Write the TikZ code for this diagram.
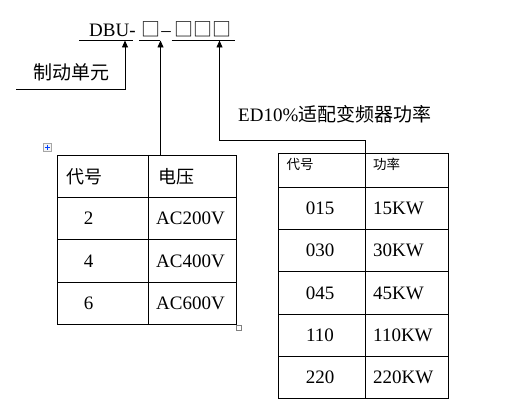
\documentclass[tikz,border=0pt]{standalone}
\usepackage{fontspec}
\setmainfont{Liberation Serif}
\newfontfamily\cjk{Noto Sans CJK SC}
\usetikzlibrary{positioning,arrows.meta,calc}

\begin{document}
\begin{tikzpicture}[
  x=1pt, y=-1pt,
  font=\fontsize{19}{22}\selectfont,
  >={Triangle[length=7pt,width=6pt]},
  lead/.style={->, line width=0.8pt},
  grid/.style={line width=0.8pt},
  cell/.style={inner sep=0pt},
  hcell/.style={inner sep=0pt, font=\fontsize{13.5}{16}\selectfont\cjk},
]
  \useasboundingbox (0,0) rectangle (506,414);

  % type code
  \node[cell, anchor=base west] (dbu) at (89,37) {DBU-};
  \node[cell, anchor=base] (boxa) at (150.5,37) {\cjk □};
  \node[cell, anchor=base] (dash) at (166,37) {–};
  \node[cell, anchor=base] (boxb) at (203,37) {\cjk □□□};
  \draw[grid] (79,40.5) -- (133,40.5);
  \draw[grid] (139,40.5) -- (160,40.5);
  \draw[grid] (171.5,40.5) -- (235,40.5);

  \coordinate (pa) at (125,40.5);
  \coordinate (pb) at (160.5,40.5);
  \coordinate (pc) at (219.5,40.5);

  % unit label
  \node[cell, font=\fontsize{19}{22}\selectfont\cjk] (unit) at (71,72) {制动单元};
  \coordinate (ua) at (16,89);
  \draw[lead] (ua) -- (125,89) -- (pa);

  % voltage table
  \coordinate (vt) at (160.5,155);
  \draw[lead] (vt) -- (pb);
  \draw[grid] (57.5,155) rectangle (236.5,324);
  \draw[grid] (148.5,155) -- (148.5,324);
  \foreach \y in {197.5,239.5,282.5}
    \draw[grid] (57.5,\y) -- (236.5,\y);
  \node[cell, anchor=west, font=\fontsize{18}{22}\selectfont\cjk] (vcode) at (66,177) {代号};
  \node[cell, anchor=west, font=\fontsize{18}{22}\selectfont\cjk] (vvolt) at (158,177) {电压};
  \foreach \c/\v/\y in {2/200/218.5, 4/400/261, 6/600/303} {
    \node[cell] (vc\c) at (88.5,\y) {\c};
    \node[cell, anchor=west] (vv\c) at (156,\y) {AC\v V};
  }
  % table handles
  \node[draw=gray!70, fill=gray!8, minimum size=7.5pt, inner sep=0pt, line width=0.7pt] (mv) at (47.5,147.5) {};
  \draw[blue!75!cyan, line width=1pt] ($(mv)+(-2.8,0)$) -- ($(mv)+(2.8,0)$)
    ($(mv)+(0,-2.8)$) -- ($(mv)+(0,2.8)$);
  \node[draw=gray, minimum size=5.5pt, inner sep=0pt, line width=0.8pt] (rs) at (239,328) {};

  % power table
  \node[cell, anchor=west, font=\fontsize{19}{22}\selectfont] (edtxt) at (238,114)
       {ED10\%{\cjk 适配变频器功率}};
  \coordinate (pt) at (365.5,153.5);
  \draw[lead] (pt) -- (365.5,140.5) -- (219.5,140.5) -- (pc);
  \draw[grid] (278.5,153.5) rectangle (448.5,398.5);
  \draw[grid] (365.5,153.5) -- (365.5,398.5);
  \foreach \y in {187.5,229.5,271.5,314,356.5}
    \draw[grid] (278.5,\y) -- (448.5,\y);
  \node[hcell, anchor=west] (pcode) at (286.5,164) {代号};
  \node[hcell, anchor=west] (ppow) at (373,164) {功率};
  \foreach \c/\p/\y in {015/15/208.5, 030/30/250.5, 045/45/293, 110/110/335.5, 220/220/377.5} {
    \node[cell] (pc\c) at (320,\y) {\c};
    \node[cell, anchor=west] (pp\c) at (373,\y) {\p KW};
  }
\end{tikzpicture}
\end{document}
